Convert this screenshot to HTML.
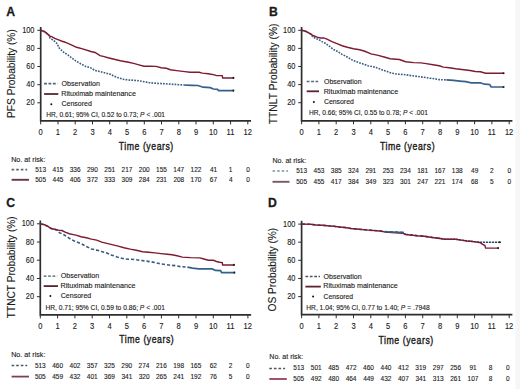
<!DOCTYPE html>
<html><head><meta charset="utf-8"><style>
html,body{margin:0;padding:0;background:#fff;}
svg{display:block;}
text{font-family:"Liberation Sans", sans-serif;fill:#1a1a1a;stroke:#1a1a1a;stroke-width:0.12px;}
</style></head><body>
<svg width="520" height="389" viewBox="0 0 520 389">
<rect width="520" height="389" fill="#fff"/>
<rect x="515.5" y="0" width="4.5" height="389" fill="#f6f6f6"/>
<text transform="translate(6.2,16.2) scale(0.9,1)" font-size="13.6" font-weight="bold" style="stroke-width:0.3px">A</text>
<path d="M40.7,27.0V120.9H251.0" fill="none" stroke="#2e2e2e" stroke-width="1.7"/>
<path d="M37.3,102.8H40.7" stroke="#2e2e2e" stroke-width="1"/>
<text transform="translate(26.27,105.33) scale(0.8600,1)" font-size="8.6">20</text>
<path d="M37.3,84.7H40.7" stroke="#2e2e2e" stroke-width="1"/>
<text transform="translate(26.27,87.21) scale(0.8600,1)" font-size="8.6">40</text>
<path d="M37.3,66.5H40.7" stroke="#2e2e2e" stroke-width="1"/>
<text transform="translate(26.27,69.09) scale(0.8600,1)" font-size="8.6">60</text>
<path d="M37.3,48.4H40.7" stroke="#2e2e2e" stroke-width="1"/>
<text transform="translate(26.27,50.97) scale(0.8600,1)" font-size="8.6">80</text>
<path d="M37.3,30.3H40.7" stroke="#2e2e2e" stroke-width="1"/>
<text transform="translate(22.14,32.85) scale(0.8600,1)" font-size="8.6">100</text>
<path d="M40.7,120.9V124.4" stroke="#2e2e2e" stroke-width="1"/>
<text transform="translate(38.60,134.90) scale(0.8800,1)" font-size="8.6">0</text>
<path d="M58.0,120.9V124.4" stroke="#2e2e2e" stroke-width="1"/>
<text transform="translate(55.76,134.90) scale(0.8800,1)" font-size="8.6">1</text>
<path d="M75.2,120.9V124.4" stroke="#2e2e2e" stroke-width="1"/>
<text transform="translate(73.11,134.90) scale(0.8800,1)" font-size="8.6">2</text>
<path d="M92.5,120.9V124.4" stroke="#2e2e2e" stroke-width="1"/>
<text transform="translate(90.40,134.90) scale(0.8800,1)" font-size="8.6">3</text>
<path d="M109.7,120.9V124.4" stroke="#2e2e2e" stroke-width="1"/>
<text transform="translate(107.66,134.90) scale(0.8800,1)" font-size="8.6">4</text>
<path d="M127.0,120.9V124.4" stroke="#2e2e2e" stroke-width="1"/>
<text transform="translate(124.90,134.90) scale(0.8800,1)" font-size="8.6">5</text>
<path d="M144.3,120.9V124.4" stroke="#2e2e2e" stroke-width="1"/>
<text transform="translate(142.13,134.90) scale(0.8800,1)" font-size="8.6">6</text>
<path d="M161.5,120.9V124.4" stroke="#2e2e2e" stroke-width="1"/>
<text transform="translate(159.41,134.90) scale(0.8800,1)" font-size="8.6">7</text>
<path d="M178.8,120.9V124.4" stroke="#2e2e2e" stroke-width="1"/>
<text transform="translate(176.68,134.90) scale(0.8800,1)" font-size="8.6">8</text>
<path d="M196.0,120.9V124.4" stroke="#2e2e2e" stroke-width="1"/>
<text transform="translate(193.93,134.90) scale(0.8800,1)" font-size="8.6">9</text>
<path d="M213.3,120.9V124.4" stroke="#2e2e2e" stroke-width="1"/>
<text transform="translate(208.96,134.90) scale(0.8800,1)" font-size="8.6">10</text>
<path d="M230.6,120.9V124.4" stroke="#2e2e2e" stroke-width="1"/>
<text transform="translate(226.53,134.90) scale(0.8800,1)" font-size="8.6">11</text>
<path d="M247.8,120.9V124.4" stroke="#2e2e2e" stroke-width="1"/>
<text transform="translate(243.52,134.90) scale(0.8800,1)" font-size="8.6">12</text>
<text transform="translate(15.20,117.94) rotate(-90) scale(1.0083,1)" font-size="10.1">PFS Probability (%)</text>
<text transform="translate(118.80,150.40) scale(0.7773,1)" font-size="11.2" style="stroke-width:0.4px" letter-spacing="0.7">Time (years)</text>
<path d="M44.1,83.6H57.5" stroke="#4d6478" stroke-width="1.6" stroke-dasharray="2.8 1.6"/>
<text transform="translate(61.56,85.90) scale(0.9891,1)" font-size="7.2">Observation</text>
<path d="M44.1,94.0H58.3" stroke="#5a2232" stroke-width="1.8"/>
<text transform="translate(61.31,95.60) scale(0.9941,1)" font-size="7.2">Rituximab maintenance</text>
<circle cx="51.3" cy="104.3" r="1.0" fill="#111"/>
<text transform="translate(61.55,106.10) scale(0.9703,1)" font-size="7.2">Censored</text>
<text transform="translate(46.15,117.30) scale(0.9481,1)" font-size="7.0">HR, 0.61; 95% CI, 0.52 to 0.73; <tspan font-style="italic">P</tspan> &lt; .001</text>
<polyline points="40.7,30.3 44.7,31.7 48.0,34.4 49.5,36.0 50.0,38.0 52.4,39.7 55.0,41.7 57.4,44.0 58.7,47.4 60.0,49.0 64.1,52.5 68.2,55.1 71.3,57.6 75.4,60.7 80.6,63.8 85.7,66.4 90.9,67.9 95.0,70.5 100.1,71.5 105.3,73.1 110.0,74.1 113.1,75.7 118.3,77.8 123.4,79.3 128.6,80.0 133.7,80.3 138.9,80.7 144.0,81.7 149.2,82.7 158.0,83.4 164.2,83.7 171.4,84.2 183.8,85.0" fill="none" stroke="#365c82" stroke-width="1.6" stroke-dasharray="1.7 1.2"/>
<polyline points="183.8,85.0 192.0,85.3 198.0,85.5 203.1,87.2 210.3,87.7 213.4,89.0 217.5,89.3 218.6,90.6 234.0,90.6" fill="none" stroke="#35608a" stroke-width="1.7"/>
<polyline points="40.7,30.3 44.7,31.7 48.0,34.4 50.0,36.3 51.4,36.4 54.7,38.4 58.0,39.7 61.4,41.0 65.1,42.2 71.3,44.8 76.5,47.3 82.6,48.9 90.9,51.5 95.0,52.5 100.1,55.6 104.2,56.6 108.0,57.7 114.2,59.3 120.3,60.8 128.6,62.3 133.7,63.4 138.9,64.9 144.0,66.3 149.2,66.3 156.0,66.4 161.1,67.8 166.3,68.3 170.4,69.8 176.6,70.6 184.8,71.6 190.0,72.2 199.2,72.2 202.3,73.1 208.3,73.8 214.5,74.9 216.5,75.6 222.2,75.6 222.7,77.9 234.0,77.9" fill="none" stroke="#7c1b31" stroke-width="1.45"/>
<circle cx="233.4" cy="90.6" r="1.05" fill="#222"/>
<circle cx="233.4" cy="77.9" r="1.05" fill="#222"/>
<text transform="translate(11.21,161.50) scale(0.9817,1)" font-size="7.3">No. at risk:</text>
<path d="M11.6,169.6H27.2" stroke="#56687a" stroke-width="1.8" stroke-dasharray="2.6 2.0"/>
<path d="M11.6,179.8H29.0" stroke="#6a3446" stroke-width="1.9"/>
<text transform="translate(35.19,171.90) scale(0.8900,1)" font-size="7.3">513</text>
<text transform="translate(35.18,182.00) scale(0.8900,1)" font-size="7.3">505</text>
<text transform="translate(52.52,171.90) scale(0.8900,1)" font-size="7.3">415</text>
<text transform="translate(52.52,182.00) scale(0.8900,1)" font-size="7.3">445</text>
<text transform="translate(69.76,171.90) scale(0.8900,1)" font-size="7.3">336</text>
<text transform="translate(69.81,182.00) scale(0.8900,1)" font-size="7.3">406</text>
<text transform="translate(86.98,171.90) scale(0.8900,1)" font-size="7.3">290</text>
<text transform="translate(87.06,182.00) scale(0.8900,1)" font-size="7.3">372</text>
<text transform="translate(104.30,171.90) scale(0.8900,1)" font-size="7.3">251</text>
<text transform="translate(104.32,182.00) scale(0.8900,1)" font-size="7.3">333</text>
<text transform="translate(121.58,171.90) scale(0.8900,1)" font-size="7.3">217</text>
<text transform="translate(121.61,182.00) scale(0.8900,1)" font-size="7.3">309</text>
<text transform="translate(138.82,171.90) scale(0.8900,1)" font-size="7.3">200</text>
<text transform="translate(138.79,182.00) scale(0.8900,1)" font-size="7.3">284</text>
<text transform="translate(156.03,171.90) scale(0.8900,1)" font-size="7.3">155</text>
<text transform="translate(156.14,182.00) scale(0.8900,1)" font-size="7.3">231</text>
<text transform="translate(173.33,171.90) scale(0.8900,1)" font-size="7.3">147</text>
<text transform="translate(173.40,182.00) scale(0.8900,1)" font-size="7.3">208</text>
<text transform="translate(190.61,171.90) scale(0.8900,1)" font-size="7.3">122</text>
<text transform="translate(190.58,182.00) scale(0.8900,1)" font-size="7.3">170</text>
<text transform="translate(209.88,171.90) scale(0.8900,1)" font-size="7.3">41</text>
<text transform="translate(209.79,182.00) scale(0.8900,1)" font-size="7.3">67</text>
<text transform="translate(228.79,171.90) scale(0.8900,1)" font-size="7.3">1</text>
<text transform="translate(228.89,182.00) scale(0.8900,1)" font-size="7.3">4</text>
<text transform="translate(246.16,171.90) scale(0.8900,1)" font-size="7.3">0</text>
<text transform="translate(246.16,182.00) scale(0.8900,1)" font-size="7.3">0</text>
<text transform="translate(268.9,16.2) scale(0.9,1)" font-size="13.6" font-weight="bold" style="stroke-width:0.3px">B</text>
<path d="M301.6,27.0V120.8H512.4" fill="none" stroke="#2e2e2e" stroke-width="1.7"/>
<path d="M298.2,102.7H301.6" stroke="#2e2e2e" stroke-width="1"/>
<text transform="translate(287.17,105.25) scale(0.8600,1)" font-size="8.6">20</text>
<path d="M298.2,84.6H301.6" stroke="#2e2e2e" stroke-width="1"/>
<text transform="translate(287.17,87.15) scale(0.8600,1)" font-size="8.6">40</text>
<path d="M298.2,66.5H301.6" stroke="#2e2e2e" stroke-width="1"/>
<text transform="translate(287.17,69.05) scale(0.8600,1)" font-size="8.6">60</text>
<path d="M298.2,48.4H301.6" stroke="#2e2e2e" stroke-width="1"/>
<text transform="translate(287.17,50.95) scale(0.8600,1)" font-size="8.6">80</text>
<path d="M298.2,30.3H301.6" stroke="#2e2e2e" stroke-width="1"/>
<text transform="translate(283.04,32.85) scale(0.8600,1)" font-size="8.6">100</text>
<path d="M301.6,120.8V124.3" stroke="#2e2e2e" stroke-width="1"/>
<text transform="translate(299.50,134.80) scale(0.8800,1)" font-size="8.6">0</text>
<path d="M318.9,120.8V124.3" stroke="#2e2e2e" stroke-width="1"/>
<text transform="translate(316.70,134.80) scale(0.8800,1)" font-size="8.6">1</text>
<path d="M336.2,120.8V124.3" stroke="#2e2e2e" stroke-width="1"/>
<text transform="translate(334.09,134.80) scale(0.8800,1)" font-size="8.6">2</text>
<path d="M353.5,120.8V124.3" stroke="#2e2e2e" stroke-width="1"/>
<text transform="translate(351.42,134.80) scale(0.8800,1)" font-size="8.6">3</text>
<path d="M370.8,120.8V124.3" stroke="#2e2e2e" stroke-width="1"/>
<text transform="translate(368.72,134.80) scale(0.8800,1)" font-size="8.6">4</text>
<path d="M388.1,120.8V124.3" stroke="#2e2e2e" stroke-width="1"/>
<text transform="translate(386.00,134.80) scale(0.8800,1)" font-size="8.6">5</text>
<path d="M405.4,120.8V124.3" stroke="#2e2e2e" stroke-width="1"/>
<text transform="translate(403.27,134.80) scale(0.8800,1)" font-size="8.6">6</text>
<path d="M422.7,120.8V124.3" stroke="#2e2e2e" stroke-width="1"/>
<text transform="translate(420.59,134.80) scale(0.8800,1)" font-size="8.6">7</text>
<path d="M440.0,120.8V124.3" stroke="#2e2e2e" stroke-width="1"/>
<text transform="translate(437.90,134.80) scale(0.8800,1)" font-size="8.6">8</text>
<path d="M457.3,120.8V124.3" stroke="#2e2e2e" stroke-width="1"/>
<text transform="translate(455.19,134.80) scale(0.8800,1)" font-size="8.6">9</text>
<path d="M474.6,120.8V124.3" stroke="#2e2e2e" stroke-width="1"/>
<text transform="translate(470.26,134.80) scale(0.8800,1)" font-size="8.6">10</text>
<path d="M491.9,120.8V124.3" stroke="#2e2e2e" stroke-width="1"/>
<text transform="translate(487.87,134.80) scale(0.8800,1)" font-size="8.6">11</text>
<path d="M509.2,120.8V124.3" stroke="#2e2e2e" stroke-width="1"/>
<text transform="translate(504.90,134.80) scale(0.8800,1)" font-size="8.6">12</text>
<text transform="translate(277.10,124.23) rotate(-90) scale(1.0191,1)" font-size="10.1">TTNLT Probability (%)</text>
<text transform="translate(379.90,149.80) scale(0.7802,1)" font-size="11.2" style="stroke-width:0.4px" letter-spacing="0.7">Time (years)</text>
<path d="M306.7,81.4H318.2" stroke="#4f6a7c" stroke-width="1.5" stroke-dasharray="2.8 1.6"/>
<text transform="translate(323.97,83.50) scale(0.9706,1)" font-size="7.2">Observation</text>
<path d="M306.7,91.3H319.0" stroke="#5a2232" stroke-width="1.8"/>
<text transform="translate(323.71,93.60) scale(0.9900,1)" font-size="7.2">Rituximab maintenance</text>
<circle cx="313.9" cy="102.0" r="1.0" fill="#111"/>
<text transform="translate(323.96,103.60) scale(0.9572,1)" font-size="7.2">Censored</text>
<text transform="translate(308.95,114.90) scale(0.9489,1)" font-size="7.0">HR, 0.66; 95% CI, 0.55 to 0.78; <tspan font-style="italic">P</tspan> &lt; .001</text>
<polyline points="301.7,30.3 305.6,31.3 309.7,33.4 311.3,34.6 312.6,36.7 315.5,38.3 318.8,39.6 322.0,41.6 325.3,43.3 327.8,45.1 330.3,47.0 332.7,49.0 335.2,50.3 338.0,51.8 342.1,54.4 347.3,57.0 352.4,60.1 357.6,62.1 363.7,64.2 367.9,65.7 373.0,66.7 378.2,68.3 383.3,70.3 387.1,71.4 391.2,73.1 398.4,74.2 405.6,74.7 411.7,75.7 417.9,76.5 424.1,77.3 430.3,78.3 435.0,78.8 439.2,79.6 446.4,79.9" fill="none" stroke="#365c82" stroke-width="1.6" stroke-dasharray="1.7 1.2"/>
<polyline points="446.4,79.9 453.6,80.4 459.7,81.1 465.9,81.7 471.2,82.8 480.4,82.8 484.5,84.2 489.7,84.5 491.2,87.0 504.1,87.0" fill="none" stroke="#35608a" stroke-width="1.7"/>
<polyline points="301.7,30.3 305.6,31.3 309.7,33.4 313.0,35.5 317.1,37.1 320.4,37.9 323.7,37.9 327.0,39.2 331.9,41.6 337.0,43.6 342.1,45.7 347.3,47.2 353.5,48.7 359.6,49.8 364.8,51.3 371.0,53.9 378.2,55.4 385.0,57.2 390.1,58.7 399.4,59.5 405.6,61.8 413.8,62.6 421.0,62.9 426.2,63.6 433.0,64.7 439.2,65.7 443.3,67.1 449.5,67.8 455.6,68.8 463.9,69.8 470.1,70.5 475.3,71.5 480.4,71.8 485.6,73.2 504.1,73.2" fill="none" stroke="#7c1b31" stroke-width="1.45"/>
<circle cx="503.5" cy="87.0" r="1.05" fill="#222"/>
<circle cx="503.5" cy="73.2" r="1.05" fill="#222"/>
<text transform="translate(272.42,162.70) scale(0.9698,1)" font-size="7.3">No. at risk:</text>
<path d="M272.5,171.0H288.1" stroke="#7a929c" stroke-width="1.7" stroke-dasharray="2.6 2.0"/>
<path d="M272.5,181.8H289.5" stroke="#7d5664" stroke-width="1.9"/>
<text transform="translate(296.19,172.90) scale(0.8900,1)" font-size="7.3">513</text>
<text transform="translate(296.18,184.40) scale(0.8900,1)" font-size="7.3">505</text>
<text transform="translate(313.55,172.90) scale(0.8900,1)" font-size="7.3">453</text>
<text transform="translate(313.54,184.40) scale(0.8900,1)" font-size="7.3">455</text>
<text transform="translate(330.79,172.90) scale(0.8900,1)" font-size="7.3">385</text>
<text transform="translate(330.86,184.40) scale(0.8900,1)" font-size="7.3">417</text>
<text transform="translate(348.05,172.90) scale(0.8900,1)" font-size="7.3">324</text>
<text transform="translate(348.05,184.40) scale(0.8900,1)" font-size="7.3">384</text>
<text transform="translate(365.38,172.90) scale(0.8900,1)" font-size="7.3">291</text>
<text transform="translate(365.41,184.40) scale(0.8900,1)" font-size="7.3">349</text>
<text transform="translate(382.66,172.90) scale(0.8900,1)" font-size="7.3">253</text>
<text transform="translate(382.70,184.40) scale(0.8900,1)" font-size="7.3">323</text>
<text transform="translate(399.91,172.90) scale(0.8900,1)" font-size="7.3">234</text>
<text transform="translate(400.02,184.40) scale(0.8900,1)" font-size="7.3">301</text>
<text transform="translate(417.19,172.90) scale(0.8900,1)" font-size="7.3">181</text>
<text transform="translate(417.28,184.40) scale(0.8900,1)" font-size="7.3">247</text>
<text transform="translate(434.49,172.90) scale(0.8900,1)" font-size="7.3">167</text>
<text transform="translate(434.58,184.40) scale(0.8900,1)" font-size="7.3">221</text>
<text transform="translate(451.78,172.90) scale(0.8900,1)" font-size="7.3">138</text>
<text transform="translate(451.73,184.40) scale(0.8900,1)" font-size="7.3">174</text>
<text transform="translate(471.07,172.90) scale(0.8900,1)" font-size="7.3">49</text>
<text transform="translate(470.97,184.40) scale(0.8900,1)" font-size="7.3">68</text>
<text transform="translate(490.09,172.90) scale(0.8900,1)" font-size="7.3">2</text>
<text transform="translate(490.10,184.40) scale(0.8900,1)" font-size="7.3">5</text>
<text transform="translate(507.40,172.90) scale(0.8900,1)" font-size="7.3">0</text>
<text transform="translate(507.40,184.40) scale(0.8900,1)" font-size="7.3">0</text>
<text transform="translate(6.2,207.0) scale(0.9,1)" font-size="13.6" font-weight="bold" style="stroke-width:0.3px">C</text>
<path d="M40.3,220.5V314.9H251.1" fill="none" stroke="#2e2e2e" stroke-width="1.7"/>
<path d="M36.9,296.7H40.3" stroke="#2e2e2e" stroke-width="1"/>
<text transform="translate(25.87,299.23) scale(0.8600,1)" font-size="8.6">20</text>
<path d="M36.9,278.5H40.3" stroke="#2e2e2e" stroke-width="1"/>
<text transform="translate(25.87,281.01) scale(0.8600,1)" font-size="8.6">40</text>
<path d="M36.9,260.2H40.3" stroke="#2e2e2e" stroke-width="1"/>
<text transform="translate(25.87,262.79) scale(0.8600,1)" font-size="8.6">60</text>
<path d="M36.9,242.0H40.3" stroke="#2e2e2e" stroke-width="1"/>
<text transform="translate(25.87,244.57) scale(0.8600,1)" font-size="8.6">80</text>
<path d="M36.9,223.8H40.3" stroke="#2e2e2e" stroke-width="1"/>
<text transform="translate(21.74,226.35) scale(0.8600,1)" font-size="8.6">100</text>
<path d="M40.3,314.9V318.4" stroke="#2e2e2e" stroke-width="1"/>
<text transform="translate(38.20,328.90) scale(0.8800,1)" font-size="8.6">0</text>
<path d="M57.6,314.9V318.4" stroke="#2e2e2e" stroke-width="1"/>
<text transform="translate(55.40,328.90) scale(0.8800,1)" font-size="8.6">1</text>
<path d="M74.9,314.9V318.4" stroke="#2e2e2e" stroke-width="1"/>
<text transform="translate(72.79,328.90) scale(0.8800,1)" font-size="8.6">2</text>
<path d="M92.2,314.9V318.4" stroke="#2e2e2e" stroke-width="1"/>
<text transform="translate(90.12,328.90) scale(0.8800,1)" font-size="8.6">3</text>
<path d="M109.5,314.9V318.4" stroke="#2e2e2e" stroke-width="1"/>
<text transform="translate(107.42,328.90) scale(0.8800,1)" font-size="8.6">4</text>
<path d="M126.8,314.9V318.4" stroke="#2e2e2e" stroke-width="1"/>
<text transform="translate(124.70,328.90) scale(0.8800,1)" font-size="8.6">5</text>
<path d="M144.1,314.9V318.4" stroke="#2e2e2e" stroke-width="1"/>
<text transform="translate(141.97,328.90) scale(0.8800,1)" font-size="8.6">6</text>
<path d="M161.4,314.9V318.4" stroke="#2e2e2e" stroke-width="1"/>
<text transform="translate(159.29,328.90) scale(0.8800,1)" font-size="8.6">7</text>
<path d="M178.7,314.9V318.4" stroke="#2e2e2e" stroke-width="1"/>
<text transform="translate(176.60,328.90) scale(0.8800,1)" font-size="8.6">8</text>
<path d="M196.0,314.9V318.4" stroke="#2e2e2e" stroke-width="1"/>
<text transform="translate(193.89,328.90) scale(0.8800,1)" font-size="8.6">9</text>
<path d="M213.3,314.9V318.4" stroke="#2e2e2e" stroke-width="1"/>
<text transform="translate(208.96,328.90) scale(0.8800,1)" font-size="8.6">10</text>
<path d="M230.6,314.9V318.4" stroke="#2e2e2e" stroke-width="1"/>
<text transform="translate(226.57,328.90) scale(0.8800,1)" font-size="8.6">11</text>
<path d="M247.9,314.9V318.4" stroke="#2e2e2e" stroke-width="1"/>
<text transform="translate(243.60,328.90) scale(0.8800,1)" font-size="8.6">12</text>
<text transform="translate(15.10,318.23) rotate(-90) scale(1.0065,1)" font-size="10.1">TTNCT Probability (%)</text>
<text transform="translate(119.30,343.40) scale(0.7758,1)" font-size="11.2" style="stroke-width:0.4px" letter-spacing="0.7">Time (years)</text>
<path d="M43.7,276.1H57.2" stroke="#48596a" stroke-width="1.4" stroke-dasharray="2.8 1.6"/>
<text transform="translate(60.76,277.80) scale(0.9943,1)" font-size="7.2">Observation</text>
<path d="M43.7,286.1H58.0" stroke="#5a2232" stroke-width="1.8"/>
<text transform="translate(60.51,287.90) scale(0.9981,1)" font-size="7.2">Rituximab maintenance</text>
<circle cx="50.4" cy="296.0" r="1.0" fill="#111"/>
<text transform="translate(60.75,298.30) scale(0.9802,1)" font-size="7.2">Censored</text>
<text transform="translate(45.45,309.60) scale(0.9521,1)" font-size="7.0">HR, 0.71; 95% CI, 0.59 to 0.86; <tspan font-style="italic">P</tspan> &lt; .001</text>
<polyline points="40.4,223.9 44.6,224.8 47.9,226.4 51.2,228.5 54.5,229.3 57.8,230.1 59.4,232.6 64.3,235.0 69.3,238.3 74.6,241.2 80.1,243.2 85.3,245.9 91.4,249.0 96.6,250.1 101.7,251.6 106.9,253.1 111.0,254.9 117.2,257.0 125.0,259.0 134.3,259.5 140.5,260.4 146.6,261.1 152.8,262.1 159.0,263.5 165.2,264.5 170.3,265.2 175.1,265.6 180.2,266.6 187.4,267.1" fill="none" stroke="#365c82" stroke-width="1.6" stroke-dasharray="3.2 2.0"/>
<polyline points="187.4,267.1 192.6,268.1 198.7,268.9 212.3,268.9 215.4,270.4 220.6,270.6 221.6,272.6 235.0,272.6" fill="none" stroke="#35608a" stroke-width="1.7"/>
<polyline points="40.4,223.9 44.6,224.8 47.9,226.4 51.2,228.5 54.5,229.3 57.8,230.1 61.9,230.5 65.2,232.2 69.3,233.8 73.4,234.6 76.0,235.1 81.1,236.7 86.3,237.7 91.4,239.1 96.6,240.1 101.7,242.1 106.9,243.4 112.0,244.6 117.2,245.9 124.0,247.7 130.2,249.1 136.3,250.3 142.5,251.8 148.7,252.3 154.9,252.9 161.0,253.6 167.2,254.2 172.0,254.8 177.1,255.8 182.3,257.1 190.5,257.6 199.8,257.9 203.1,258.7 208.2,260.3 213.4,260.3 216.5,261.5 219.5,262.3 222.3,262.6 222.6,264.9 234.5,264.9" fill="none" stroke="#7c1b31" stroke-width="1.45"/>
<circle cx="234.4" cy="272.6" r="1.05" fill="#222"/>
<circle cx="233.9" cy="264.9" r="1.05" fill="#222"/>
<text transform="translate(11.21,356.80) scale(0.9817,1)" font-size="7.3">No. at risk:</text>
<path d="M11.6,365.6H27.2" stroke="#4a5560" stroke-width="1.5" stroke-dasharray="2.6 2.0"/>
<path d="M11.6,376.6H29.0" stroke="#7a4256" stroke-width="1.8"/>
<text transform="translate(34.89,367.90) scale(0.8900,1)" font-size="7.3">513</text>
<text transform="translate(34.88,379.10) scale(0.8900,1)" font-size="7.3">505</text>
<text transform="translate(52.23,367.90) scale(0.8900,1)" font-size="7.3">460</text>
<text transform="translate(52.26,379.10) scale(0.8900,1)" font-size="7.3">459</text>
<text transform="translate(69.56,367.90) scale(0.8900,1)" font-size="7.3">402</text>
<text transform="translate(69.56,379.10) scale(0.8900,1)" font-size="7.3">432</text>
<text transform="translate(86.82,367.90) scale(0.8900,1)" font-size="7.3">357</text>
<text transform="translate(86.86,379.10) scale(0.8900,1)" font-size="7.3">401</text>
<text transform="translate(104.09,367.90) scale(0.8900,1)" font-size="7.3">325</text>
<text transform="translate(104.11,379.10) scale(0.8900,1)" font-size="7.3">369</text>
<text transform="translate(121.34,367.90) scale(0.8900,1)" font-size="7.3">290</text>
<text transform="translate(121.42,379.10) scale(0.8900,1)" font-size="7.3">341</text>
<text transform="translate(138.61,367.90) scale(0.8900,1)" font-size="7.3">274</text>
<text transform="translate(138.68,379.10) scale(0.8900,1)" font-size="7.3">320</text>
<text transform="translate(155.96,367.90) scale(0.8900,1)" font-size="7.3">216</text>
<text transform="translate(155.95,379.10) scale(0.8900,1)" font-size="7.3">265</text>
<text transform="translate(173.18,367.90) scale(0.8900,1)" font-size="7.3">198</text>
<text transform="translate(173.28,379.10) scale(0.8900,1)" font-size="7.3">241</text>
<text transform="translate(190.47,367.90) scale(0.8900,1)" font-size="7.3">165</text>
<text transform="translate(190.49,379.10) scale(0.8900,1)" font-size="7.3">192</text>
<text transform="translate(209.69,367.90) scale(0.8900,1)" font-size="7.3">62</text>
<text transform="translate(209.67,379.10) scale(0.8900,1)" font-size="7.3">76</text>
<text transform="translate(228.79,367.90) scale(0.8900,1)" font-size="7.3">2</text>
<text transform="translate(228.80,379.10) scale(0.8900,1)" font-size="7.3">5</text>
<text transform="translate(246.10,367.90) scale(0.8900,1)" font-size="7.3">0</text>
<text transform="translate(246.10,379.10) scale(0.8900,1)" font-size="7.3">0</text>
<text transform="translate(268.1,206.8) scale(0.9,1)" font-size="13.6" font-weight="bold" style="stroke-width:0.3px">D</text>
<path d="M301.6,220.8V314.7H512.4" fill="none" stroke="#2e2e2e" stroke-width="1.7"/>
<path d="M298.2,296.6H301.6" stroke="#2e2e2e" stroke-width="1"/>
<text transform="translate(287.17,299.13) scale(0.8600,1)" font-size="8.6">20</text>
<path d="M298.2,278.5H301.6" stroke="#2e2e2e" stroke-width="1"/>
<text transform="translate(287.17,281.01) scale(0.8600,1)" font-size="8.6">40</text>
<path d="M298.2,260.3H301.6" stroke="#2e2e2e" stroke-width="1"/>
<text transform="translate(287.17,262.89) scale(0.8600,1)" font-size="8.6">60</text>
<path d="M298.2,242.2H301.6" stroke="#2e2e2e" stroke-width="1"/>
<text transform="translate(287.17,244.77) scale(0.8600,1)" font-size="8.6">80</text>
<path d="M298.2,224.1H301.6" stroke="#2e2e2e" stroke-width="1"/>
<text transform="translate(283.04,226.65) scale(0.8600,1)" font-size="8.6">100</text>
<path d="M301.6,314.7V318.2" stroke="#2e2e2e" stroke-width="1"/>
<text transform="translate(299.50,328.70) scale(0.8800,1)" font-size="8.6">0</text>
<path d="M318.9,314.7V318.2" stroke="#2e2e2e" stroke-width="1"/>
<text transform="translate(316.70,328.70) scale(0.8800,1)" font-size="8.6">1</text>
<path d="M336.2,314.7V318.2" stroke="#2e2e2e" stroke-width="1"/>
<text transform="translate(334.09,328.70) scale(0.8800,1)" font-size="8.6">2</text>
<path d="M353.5,314.7V318.2" stroke="#2e2e2e" stroke-width="1"/>
<text transform="translate(351.42,328.70) scale(0.8800,1)" font-size="8.6">3</text>
<path d="M370.8,314.7V318.2" stroke="#2e2e2e" stroke-width="1"/>
<text transform="translate(368.72,328.70) scale(0.8800,1)" font-size="8.6">4</text>
<path d="M388.1,314.7V318.2" stroke="#2e2e2e" stroke-width="1"/>
<text transform="translate(386.00,328.70) scale(0.8800,1)" font-size="8.6">5</text>
<path d="M405.4,314.7V318.2" stroke="#2e2e2e" stroke-width="1"/>
<text transform="translate(403.27,328.70) scale(0.8800,1)" font-size="8.6">6</text>
<path d="M422.7,314.7V318.2" stroke="#2e2e2e" stroke-width="1"/>
<text transform="translate(420.59,328.70) scale(0.8800,1)" font-size="8.6">7</text>
<path d="M440.0,314.7V318.2" stroke="#2e2e2e" stroke-width="1"/>
<text transform="translate(437.90,328.70) scale(0.8800,1)" font-size="8.6">8</text>
<path d="M457.3,314.7V318.2" stroke="#2e2e2e" stroke-width="1"/>
<text transform="translate(455.19,328.70) scale(0.8800,1)" font-size="8.6">9</text>
<path d="M474.6,314.7V318.2" stroke="#2e2e2e" stroke-width="1"/>
<text transform="translate(470.26,328.70) scale(0.8800,1)" font-size="8.6">10</text>
<path d="M491.9,314.7V318.2" stroke="#2e2e2e" stroke-width="1"/>
<text transform="translate(487.87,328.70) scale(0.8800,1)" font-size="8.6">11</text>
<path d="M509.2,314.7V318.2" stroke="#2e2e2e" stroke-width="1"/>
<text transform="translate(504.90,328.70) scale(0.8800,1)" font-size="8.6">12</text>
<text transform="translate(276.10,311.49) rotate(-90) scale(1.0111,1)" font-size="10.1">OS Probability (%)</text>
<text transform="translate(378.40,343.90) scale(0.7831,1)" font-size="11.2" style="stroke-width:0.4px" letter-spacing="0.7">Time (years)</text>
<path d="M305.4,276.5H320.0" stroke="#4a5866" stroke-width="1.3" stroke-dasharray="2.8 1.6"/>
<text transform="translate(323.56,278.50) scale(0.9812,1)" font-size="7.2">Observation</text>
<path d="M305.4,286.6H320.8" stroke="#5a2232" stroke-width="1.8"/>
<text transform="translate(323.31,288.30) scale(0.9914,1)" font-size="7.2">Rituximab maintenance</text>
<circle cx="313.1" cy="296.6" r="1.0" fill="#111"/>
<text transform="translate(323.56,298.70) scale(0.9440,1)" font-size="7.2">Censored</text>
<text transform="translate(306.25,309.60) scale(0.9558,1)" font-size="7.0">HR, 1.04; 95% CI, 0.77 to 1.40; <tspan font-style="italic">P</tspan> = .7948</text>
<polyline points="301.8,224.1 310.5,224.3 316.3,225.0 322.1,225.2 327.8,225.8 333.6,226.2 339.4,227.0 345.1,227.5 350.9,228.5 359.0,229.3 368.5,230.1 380.1,231.0 384.5,231.6 391.6,232.0 403.8,232.5 405.4,234.2 417.0,235.6 424.2,236.2 432.3,237.4 438.1,238.1" fill="none" stroke="#365c82" stroke-width="1.6" stroke-dasharray="3.2 2.0"/>
<polyline points="438.1,238.1 445.0,239.2 455.4,239.2 461.1,240.0 466.9,240.9 470.2,241.2 475.4,241.8 480.6,242.2 500.5,242.2" fill="none" stroke="#2f4a66" stroke-width="1.5" stroke-dasharray="2.2 0.8"/>
<polyline points="301.8,224.1 310.5,224.3 316.3,225.0 322.1,225.2 327.8,225.8 333.6,226.2 339.4,227.0 345.1,227.5 350.9,228.5 359.0,229.3 368.5,230.1 380.1,231.0 385.8,232.1 391.6,232.6 403.1,233.3 405.4,234.5 417.0,235.8 424.2,236.3 432.3,237.5 438.1,238.2 445.0,239.3 455.4,239.3 461.1,240.1 466.9,241.0 470.2,241.3 475.4,241.9 480.6,242.8 482.3,244.1 484.9,245.5 485.6,248.1 498.7,248.1" fill="none" stroke="#7c1b31" stroke-width="1.45"/>
<polyline points="384.5,231.6 391.6,232.0 403.8,232.5" fill="none" stroke="#365c82" stroke-width="1.4"/>
<circle cx="499.9" cy="242.2" r="1.05" fill="#222"/>
<circle cx="498.1" cy="248.1" r="1.05" fill="#222"/>
<text transform="translate(269.32,358.80) scale(0.9698,1)" font-size="7.3">No. at risk:</text>
<path d="M269.3,368.4H285.1" stroke="#4a5560" stroke-width="1.5" stroke-dasharray="2.6 2.0"/>
<path d="M269.3,379.0H286.8" stroke="#a04866" stroke-width="1.9"/>
<text transform="translate(293.34,369.80) scale(0.8900,1)" font-size="7.3">513</text>
<text transform="translate(293.33,380.90) scale(0.8900,1)" font-size="7.3">505</text>
<text transform="translate(310.79,369.80) scale(0.8900,1)" font-size="7.3">501</text>
<text transform="translate(310.84,380.90) scale(0.8900,1)" font-size="7.3">492</text>
<text transform="translate(328.25,369.80) scale(0.8900,1)" font-size="7.3">485</text>
<text transform="translate(328.24,380.90) scale(0.8900,1)" font-size="7.3">480</text>
<text transform="translate(345.70,369.80) scale(0.8900,1)" font-size="7.3">472</text>
<text transform="translate(345.64,380.90) scale(0.8900,1)" font-size="7.3">464</text>
<text transform="translate(363.10,369.80) scale(0.8900,1)" font-size="7.3">460</text>
<text transform="translate(363.13,380.90) scale(0.8900,1)" font-size="7.3">449</text>
<text transform="translate(380.53,369.80) scale(0.8900,1)" font-size="7.3">440</text>
<text transform="translate(380.56,380.90) scale(0.8900,1)" font-size="7.3">432</text>
<text transform="translate(397.99,369.80) scale(0.8900,1)" font-size="7.3">412</text>
<text transform="translate(397.99,380.90) scale(0.8900,1)" font-size="7.3">407</text>
<text transform="translate(415.37,369.80) scale(0.8900,1)" font-size="7.3">319</text>
<text transform="translate(415.38,380.90) scale(0.8900,1)" font-size="7.3">341</text>
<text transform="translate(432.77,369.80) scale(0.8900,1)" font-size="7.3">297</text>
<text transform="translate(432.79,380.90) scale(0.8900,1)" font-size="7.3">313</text>
<text transform="translate(450.18,369.80) scale(0.8900,1)" font-size="7.3">256</text>
<text transform="translate(450.20,380.90) scale(0.8900,1)" font-size="7.3">261</text>
<text transform="translate(469.44,369.80) scale(0.8900,1)" font-size="7.3">91</text>
<text transform="translate(467.54,380.90) scale(0.8900,1)" font-size="7.3">107</text>
<text transform="translate(488.68,369.80) scale(0.8900,1)" font-size="7.3">8</text>
<text transform="translate(488.68,380.90) scale(0.8900,1)" font-size="7.3">8</text>
<text transform="translate(506.11,369.80) scale(0.8900,1)" font-size="7.3">0</text>
<text transform="translate(506.11,380.90) scale(0.8900,1)" font-size="7.3">0</text>
</svg>
</body></html>
